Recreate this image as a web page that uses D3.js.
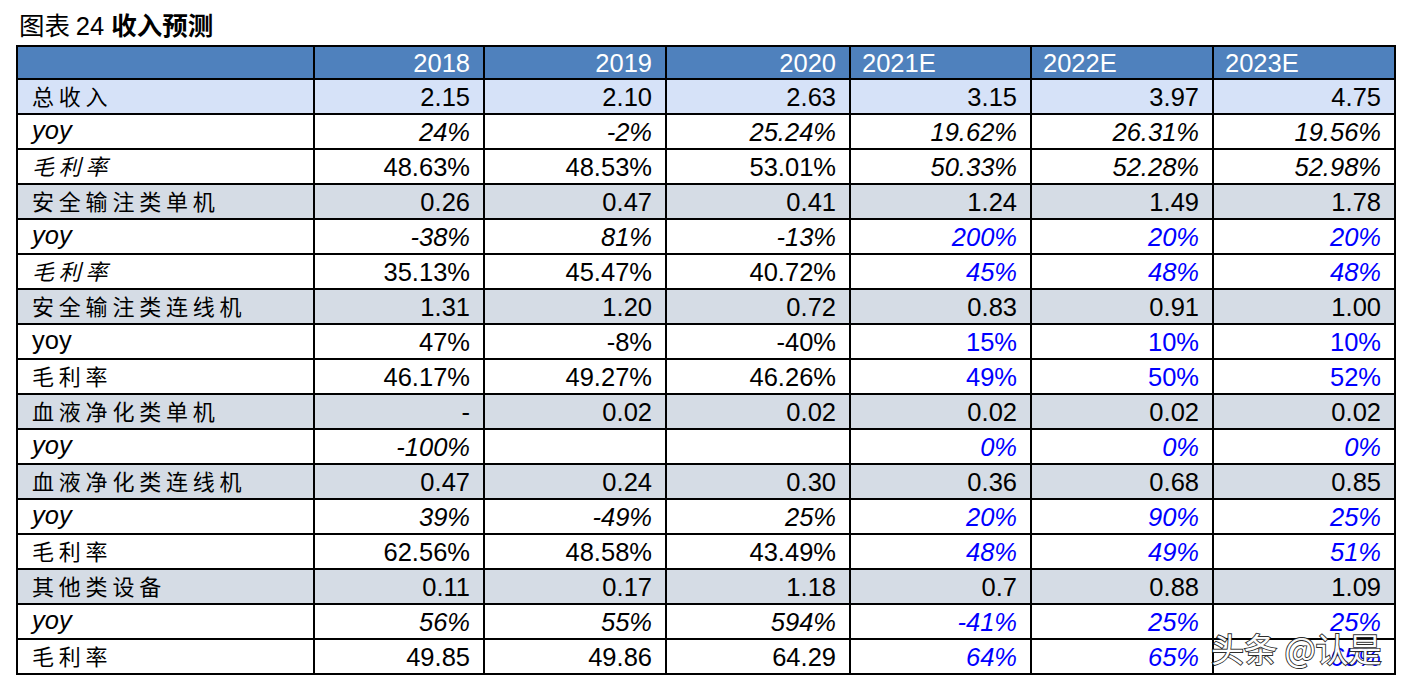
<!DOCTYPE html>
<html><head><meta charset="utf-8">
<script src="https://cdn.jsdelivr.net/npm/d3@7"></script>
<style>body{margin:0;background:#fff;}</style>
</head><body>
<script>
const title = ["图表 ", "24 ", "收入预测"];
const years = ["2018", "2019", "2020", "2021E", "2022E", "2023E"];
const rowLabels = ["总收入","yoy","毛利率","安全输注类单机","yoy","毛利率","安全输注类连线机","yoy","毛利率","血液净化类单机","yoy","血液净化类连线机","yoy","毛利率","其他类设备","yoy","毛利率"];
const values = [
 ["2.15","2.10","2.63","3.15","3.97","4.75"],
 ["24%","-2%","25.24%","19.62%","26.31%","19.56%"],
 ["48.63%","48.53%","53.01%","50.33%","52.28%","52.98%"],
 ["0.26","0.47","0.41","1.24","1.49","1.78"],
 ["-38%","81%","-13%","200%","20%","20%"],
 ["35.13%","45.47%","40.72%","45%","48%","48%"],
 ["1.31","1.20","0.72","0.83","0.91","1.00"],
 ["47%","-8%","-40%","15%","10%","10%"],
 ["46.17%","49.27%","46.26%","49%","50%","52%"],
 ["-","0.02","0.02","0.02","0.02","0.02"],
 ["-100%","","","0%","0%","0%"],
 ["0.47","0.24","0.30","0.36","0.68","0.85"],
 ["39%","-49%","25%","20%","90%","25%"],
 ["62.56%","48.58%","43.49%","48%","49%","51%"],
 ["0.11","0.17","1.18","0.7","0.88","1.09"],
 ["56%","55%","594%","-41%","25%","25%"],
 ["49.85","49.86","64.29","64%","65%","65%"]
];
// row kind: 0 total (blue), 1 segment (gray), 2 plain
const rowKind = [0,2,2,1,2,2,1,2,2,1,2,1,2,2,1,2,2];
const labelItalic = [0,1,1,0,1,1,0,0,0,0,1,0,1,0,0,1,0];
const actItalic = [0,1,0,0,1,0,0,0,0,0,1,0,1,0,0,1,0];
const estItalic = [0,1,1,0,1,1,0,0,0,0,1,0,1,1,0,1,1];
const estBlue   = [0,0,0,0,1,1,0,1,1,0,1,0,1,1,0,1,1];
const watermark = "头条 @认是";

const W = 1421, H = 685;
const svg = d3.select("body").append("svg").attr("width", W).attr("height", H);

const colEdges = [17, 314, 484, 666, 850, 1031, 1213, 1395];
const headerTop = 46, headerBottom = 79, tableBottom = 674;
const y = d3.scaleBand().domain(d3.range(rowLabels.length)).range([headerBottom, tableBottom]).paddingInner(0).paddingOuter(0);

const fills = ["#d6e2f8", "#d5dce5", "#ffffff"];
const numFont = "'Liberation Sans', Arial, sans-serif";
const cjkFont = "'Noto Sans CJK SC', sans-serif";
const numSize = 25.5;

// title
const t = svg.append("text").attr("x", 19).attr("y", 35).attr("font-size", 25.5).attr("fill", "#000");
t.append("tspan").attr("font-family", cjkFont).text(title[0]);
t.append("tspan").attr("font-family", numFont).text(title[1]);
t.append("tspan").attr("font-family", cjkFont).attr("font-weight", "bold").text(title[2]);

// header
svg.append("rect").attr("x", colEdges[0]).attr("y", headerTop).attr("width", colEdges[7]-colEdges[0]).attr("height", headerBottom-headerTop).attr("fill", "#4f81bd");
years.forEach((yr, i) => {
  const est = i >= 3;
  svg.append("text")
    .attr("x", est ? colEdges[i+1] + 12 : colEdges[i+2] - 14)
    .attr("y", (headerTop+headerBottom)/2 + 9)
    .attr("text-anchor", est ? "start" : "end")
    .attr("font-family", numFont).attr("font-size", numSize).attr("fill", "#fff")
    .text(yr);
});

// rows
rowLabels.forEach((lab, r) => {
  const y0 = y(r), h = y.bandwidth();
  svg.append("rect").attr("x", colEdges[0]).attr("y", y0).attr("width", colEdges[7]-colEdges[0]).attr("height", h).attr("fill", fills[rowKind[r]]);
  const isLatin = /^[a-z]+$/.test(lab);
  svg.append("text")
    .attr("x", 32).attr("y", y0 + h/2 + (isLatin ? 7 : 8))
    .attr("font-family", isLatin ? numFont : cjkFont)
    .attr("font-size", isLatin ? numSize : 22)
    .attr("letter-spacing", isLatin ? 0 : 4.8)
    .attr("font-style", labelItalic[r] ? "italic" : "normal")
    .attr("fill", "#000")
    .text(lab);
  values[r].forEach((v, c) => {
    const est = c >= 3;
    svg.append("text")
      .attr("x", colEdges[c+2] - 14)
      .attr("y", y0 + h/2 + 9)
      .attr("text-anchor", "end")
      .attr("font-family", numFont).attr("font-size", numSize)
      .attr("font-style", (est ? estItalic[r] : actItalic[r]) ? "italic" : "normal")
      .attr("fill", est && estBlue[r] ? "#0000ff" : "#000")
      .text(v);
  });
});

// grid lines
const gl = svg.append("g").attr("stroke", "#000").attr("stroke-width", 2);
const hLines = [headerTop, headerBottom].concat(d3.range(1, rowLabels.length).map(r => y(r))).concat([tableBottom]);
hLines.forEach(yy => gl.append("line").attr("x1", colEdges[0]-1).attr("x2", colEdges[7]+1).attr("y1", yy).attr("y2", yy));
colEdges.forEach(xx => gl.append("line").attr("x1", xx).attr("x2", xx).attr("y1", headerTop).attr("y2", tableBottom));

// watermark (overlays the table corner as in the reference)
svg.append("text").attr("x", 1211).attr("y", 662)
  .attr("font-family", cjkFont).attr("font-size", 33)
  .attr("fill", "#fff").attr("stroke", "#222").attr("stroke-width", 1.8)
  .attr("paint-order", "stroke").attr("opacity", 0.95)
  .text(watermark);
</script>
</body></html>
